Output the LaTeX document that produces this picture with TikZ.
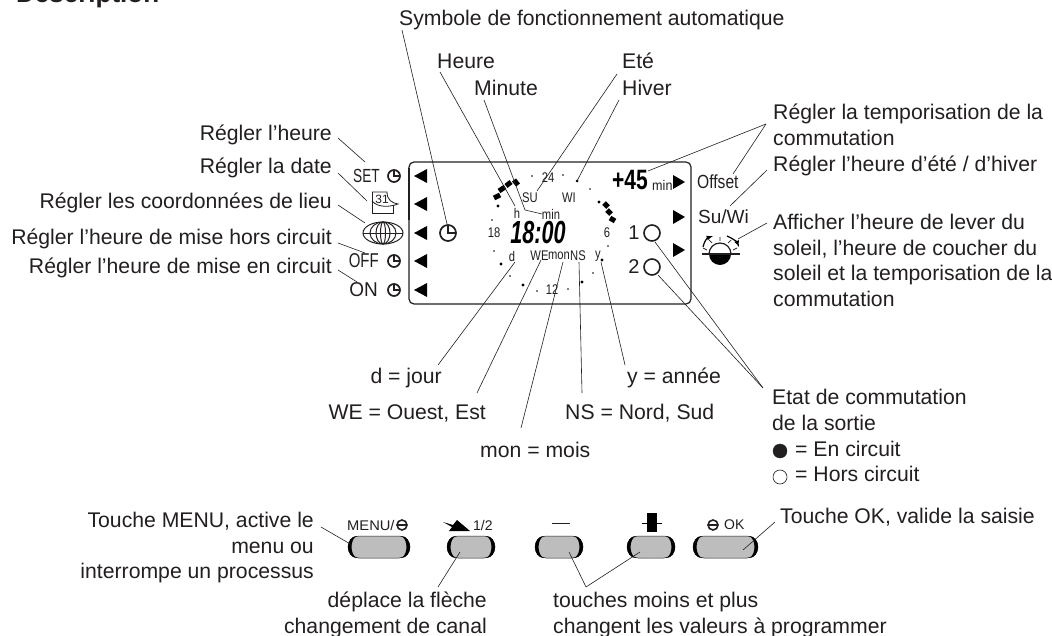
\documentclass[tikz,border=0pt]{standalone}
\usepackage{fontspec}
\usepackage{graphicx}
\setmainfont{Liberation Sans}
\definecolor{ink}{HTML}{231F20}
\definecolor{keygrey}{HTML}{BDBDBD}
\newcommand{\narrowtxt}[2][.8]{\scalebox{#1}[1]{#2}}
\tikzset{
	lbl/.style={font=\fontsize{21.2}{25.7}\selectfont,text=ink,inner sep=0pt},
	lcd/.style={font=\fontsize{14}{14}\selectfont,text=ink,inner sep=0pt},
	keylbl/.style={font=\fontsize{19}{19}\selectfont,text=ink,inner sep=0pt},
	keycap/.style={font=\fontsize{14}{14}\selectfont,text=ink,inner sep=0pt},
	pics/clockmark/.style={code={
		\draw [ink,line width=1.7pt] (0,0) circle (#1);
		\draw [ink,line width=1.4pt] (0,-#1) -- (0,0) -- (#1,0);
	}},
	pics/clockmark/.default=6,
	pics/barmark/.style={code={
		\draw [ink,line width=1.6pt] (0,0) circle (5);
		\draw [ink,line width=1.6pt] (-5,0) -- (5,0);
	}},
	pics/pushkey/.style={code={
		\draw [ink,line width=.5pt,fill=keygrey,rounded corners=11pt] (-#1,-11) rectangle (#1,11);
		\fill [black] (-#1+9,-11) .. controls (-#1-3,-11) and (-#1-3,11) .. (-#1+9,11) .. controls (-#1+1.7,8) and (-#1+1.7,-8) .. cycle;
		\fill [black] (#1-9,-11) .. controls (#1+3,-11) and (#1+3,11) .. (#1-9,11) .. controls (#1-1.7,8) and (#1-1.7,-8) .. cycle;
	}},
}
\begin{document}
\begin{tikzpicture}[x=1pt,y=-1pt]
	\useasboundingbox (0,0) rectangle (1052,636);
	\fill [white] (0,0) rectangle (1052,636);

	% title
	\node [lbl,anchor=base west,font=\fontsize{26}{26}\selectfont\bfseries] (title) at (16,2.5) {Description};

	% display
	\draw [ink,line width=1.2pt,rounded corners=5pt] (409,162) rectangle (691,304);
	\draw [ink,line width=2pt] (409,168) -- (409,220);
	\foreach \y in {176,204,233,261,290}
		\fill [black] (414,\y) -- (427,\y-7) -- (427,\y+7) -- cycle;
	\foreach \y in {182,217,250}
		\fill [black] (685,\y) -- (673,\y-7) -- (673,\y+7) -- cycle;
	\foreach \x/\y/\r in {532/176/.9,563/175/.9,577/181/1.5,590/189/.9,599/202/1.7,492/220/.9,498/206/1.7,494/251/.9,501/264/1.7,510/276/.9,523/285/1.7,537/291/.9,568/289/.9,582/282/1.7,593/273/.9,602/260/1.7,608/246/.9}
		\fill [black] (\x,\y) circle (\r);
	\foreach \a/\b/\c/\d in {494/198/500/195,499/191/505/187,506/186/511/182,514/180/518/185,604/203/608/207,607/210/611/214,610/218/615/221}
		\draw [black,line width=5pt] (\a,\b) -- (\c,\d);

	\node [lcd] (t24) at (548,178) {\narrowtxt{24}};
	\node [lcd] (t18) at (494,233) {\narrowtxt{18}};
	\node [lcd] (t6) at (607,233) {\narrowtxt{6}};
	\node [lcd] (t12) at (552,290) {\narrowtxt{12}};
	\node [lcd] (su) at (530,198) {\narrowtxt{SU}};
	\node [lcd] (wi) at (569,198) {\narrowtxt{WI}};
	\node [lcd] (hh) at (517,213) {\narrowtxt{h}};
	\node [lcd] (mm) at (551,214) {\narrowtxt{min}};
	\node [lcd] (dd) at (512,256) {\narrowtxt{d}};
	\node [lcd] (we) at (539.5,256) {\narrowtxt{WE}};
	\node [lcd] (mo) at (559,256) {\narrowtxt{mon}};
	\node [lcd] (ns) at (578,256) {\narrowtxt{NS}};
	\node [lcd] (yy) at (598,256) {\narrowtxt{y}};
	\node [inner sep=0pt,text=black,font=\fontsize{24}{24}\selectfont\bfseries\itshape] (clock) at (538,233) {\scalebox{.9}[1.33]{18:00}};
	\node [inner sep=0pt,text=black,font=\fontsize{28}{28}\selectfont\bfseries] (offs) at (630,180) {\narrowtxt[.75]{+45}};
	\node [lcd,anchor=west] (offmin) at (652,185) {\narrowtxt[.9]{min}};

	\pic at (448,233) {clockmark=8};
	\node [lbl,font=\fontsize{20}{20}\selectfont] (one) at (634,233) {1};
	\node [lbl,font=\fontsize{20}{20}\selectfont] (two) at (634,267) {2};
	\node [circle,draw=ink,line width=1.6pt,minimum size=16pt,inner sep=0pt] (outa) at (652,233) {};
	\node [circle,draw=ink,line width=1.6pt,minimum size=16pt,inner sep=0pt] (outb) at (652,267) {};

	% left hand marks
	\node [keylbl,anchor=east] (set) at (380,176) {\narrowtxt[.72]{SET}};
	\node [keylbl,anchor=east,font=\fontsize{20}{20}\selectfont] (off) at (379,261) {\narrowtxt[.75]{OFF}};
	\node [keylbl,anchor=east,font=\fontsize{20}{20}\selectfont] (on) at (378,290) {\narrowtxt[.95]{ON}};
	\pic at (394,176) {clockmark};
	\pic at (394,261) {clockmark};
	\pic at (394,290) {clockmark};
	\draw [ink,line width=.8pt] (372,192) -- (372,213) -- (393,213) -- (393,205);
	\draw [ink,line width=.8pt] (372,192) -- (387,192) .. controls (387,200) and (392,203) .. (398,204) .. controls (390,207) and (378,208) .. (372,201);
	\node [lcd,font=\fontsize{12}{12}\selectfont] (cal) at (382,199) {31};
	\draw [ink,line width=1pt] (383,233) ellipse (20 and 11);
	\draw [ink,line width=1pt] (383,233) ellipse (13 and 11);
	\draw [ink,line width=1pt] (383,233) ellipse (7 and 11);
	\draw [ink,line width=1pt] (383,233) ellipse (2.5 and 11);
	\draw [ink,line width=.8pt] (363,233) -- (403,233);

	% right hand marks
	\node [keylbl,anchor=west] (offset) at (697,182) {\narrowtxt[.82]{Offset}};
	\node [keylbl,anchor=west] (suwi) at (698,217) {Su/Wi};
	\fill [black] (709,254) arc [start angle=180,end angle=360,y radius=-11,x radius=11] -- cycle;
	\draw [ink,line width=1.2pt] (709,254) arc [start angle=180,end angle=360,radius=11];
	\draw [ink,line width=1.2pt] (702,254) -- (740,254);
	\draw [ink,line width=.7pt] (720,241) -- (720,237) (712,243) -- (709,240) (728,243) -- (731,240) (707,250) -- (703,248) (733,250) -- (737,248);
	\draw [black,line width=1.2pt,-latex] (703,247) .. controls (704,242) and (707,238) .. (713,236);
	\draw [black,line width=1.2pt,-latex] (727,236) .. controls (732,238) and (737,242) .. (739,247);

	% keys
	\pic at (379,547) {pushkey=31};
	\pic at (471,547) {pushkey=24};
	\pic at (559,547) {pushkey=24};
	\pic at (651,547) {pushkey=24};
	\pic at (725.5,547) {pushkey=32.5};
	\node [keycap,anchor=west] (menukey) at (347,525) {\narrowtxt[1.05]{MENU/}};
	\pic at (402,525) {barmark};
	\fill [black] (443,522) -- (453,525) -- (457,520) -- (470,531) -- (449,531) -- (452,527) -- cycle;
	\node [keycap,anchor=west] (chankey) at (473,525) {1/2};
	\draw [ink,line width=.9pt] (552,523) -- (570,523);
	\fill [black] (647,513) rectangle (657,532);
	\fill [black] (642,522.5) rectangle (662,523.5);
	\pic at (713,525) {barmark};
	\node [keycap,anchor=west] (okkey) at (724,525) {OK};

	% labels
	\node [lbl,anchor=west] (autolbl) at (399,20) {Symbole de fonctionnement automatique};
	\node [lbl,anchor=west] (heure) at (437,61) {Heure};
	\node [lbl,anchor=west] (minute) at (474,88) {Minute};
	\node [lbl,anchor=west] (ete) at (622,61) {Eté};
	\node [lbl,anchor=west] (hiver) at (622,88) {Hiver};
	\node [lbl,anchor=east] (sethour) at (332,135) {Régler l'heure};
	\node [lbl,anchor=east] (setdate) at (332,168) {Régler la date};
	\node [lbl,anchor=east] (setplace) at (332,203) {Régler les coordonnées de lieu};
	\node [lbl,anchor=east] (setoff) at (332,239) {Régler l'heure de mise hors circuit};
	\node [lbl,anchor=east] (seton) at (332,268) {Régler l'heure de mise en circuit};
	\node [lbl,anchor=north west,align=left] (delay) at (773,104) {Régler la temporisation de la\\commutation};
	\node [lbl,anchor=west] (summer) at (773,166) {Régler l'heure d'été / d'hiver};
	\node [lbl,anchor=north west,align=left] (sunlbl) at (773,214) {Afficher l'heure de lever du\\soleil, l'heure de coucher du\\soleil et la temporisation de la\\commutation};
	\node [lbl,anchor=north west,align=left] (state) at (772,389) {Etat de commutation\\de la sortie};
	\node [lbl,anchor=west] (stateon) at (795,449) {= En circuit};
	\node [lbl,anchor=west] (stateoff) at (795,474) {= Hors circuit};
	\node [circle,fill=ink,draw=ink,minimum size=14pt,inner sep=0pt] (lampon) at (780,451) {};
	\node [circle,draw=ink,line width=.6pt,minimum size=14pt,inner sep=0pt] (lampoff) at (780,477) {};
	\node [lbl,anchor=east] (jour) at (442,378) {d = jour};
	\node [lbl,anchor=east] (ouest) at (486,413) {WE = Ouest, Est};
	\node [lbl,anchor=west] (mois) at (480,450) {mon = mois};
	\node [lbl,anchor=west] (nord) at (565,413) {NS = Nord, Sud};
	\node [lbl,anchor=west] (annee) at (627,378) {y = année};
	\node [lbl,anchor=north east,align=right] (menulbl) at (314,512) {Touche MENU, active le\\menu ou\\interrompe un processus};
	\node [lbl,anchor=west] (oklbl) at (780,517) {Touche OK, valide la saisie};
	\node [lbl,anchor=north east,align=right] (chanlbl) at (487,592) {déplace la flèche\\changement de canal};
	\node [lbl,anchor=north west,align=left] (pluslbl) at (553,592) {touches moins et plus\\changent les valeurs à programmer};

	% leader ends
	\coordinate (a1) at (402,30);	\coordinate (a2) at (447,224);
	\coordinate (b1) at (440,72);	\coordinate (b2) at (515,206);
	\coordinate (c1) at (484,100);	\coordinate (c2) at (525,210);	\coordinate (c3) at (542,214);
	\coordinate (d1) at (617,74);	\coordinate (d2) at (537,191);
	\coordinate (e1) at (619,100);	\coordinate (e2) at (577,181);
	\coordinate (f1) at (766,124);	\coordinate (f2) at (648,171);	\coordinate (f3) at (733,174);
	\coordinate (g1) at (767,170);	\coordinate (g2) at (730,206);
	\coordinate (h1) at (767,223);	\coordinate (h2) at (738,239);
	\coordinate (i1) at (338,138);	\coordinate (i2) at (365,162);
	\coordinate (j1) at (338,173);	\coordinate (j2) at (367,201);
	\coordinate (k1) at (338,205);	\coordinate (k2) at (365,223);
	\coordinate (l1) at (338,243);	\coordinate (l2) at (365,253);
	\coordinate (m1) at (338,270);	\coordinate (m2) at (357,282);
	\coordinate (n1) at (438,365);	\coordinate (n2) at (515,262);
	\coordinate (o1) at (477,393);	\coordinate (o2) at (541,260);
	\coordinate (p1) at (521,428);	\coordinate (p2) at (563,262);
	\coordinate (q1) at (582,393);	\coordinate (q2) at (579,262);
	\coordinate (r1) at (625,365);	\coordinate (r2) at (601,262);
	\coordinate (s1) at (763,388);	\coordinate (s2) at (655,242);	\coordinate (s3) at (658,275);
	\coordinate (t1) at (321,527);	\coordinate (t2) at (352,545);
	\coordinate (u1) at (438,587);	\coordinate (u2) at (460,552);
	\coordinate (v1) at (586,587);	\coordinate (v2) at (569,552);	\coordinate (v3) at (640,552);
	\coordinate (w1) at (775,522);	\coordinate (w2) at (743,550);

	\begin{scope}[every edge/.style={draw=ink,line width=.6pt}]
		\path (a1) edge (a2);
		\path (b1) edge (b2);
		\path (c1) edge (c2);
		\path (c2) edge (c3);
		\path (d1) edge (d2);
		\path (e1) edge (e2);
		\path (f1) edge (f2);
		\path (f1) edge (f3);
		\path (g1) edge (g2);
		\path (h1) edge (h2);
		\path (i1) edge (i2);
		\path (j1) edge (j2);
		\path (k1) edge (k2);
		\path (l1) edge (l2);
		\path (m1) edge (m2);
		\path (n1) edge (n2);
		\path (o1) edge (o2);
		\path (p1) edge (p2);
		\path (q1) edge (q2);
		\path (r1) edge (r2);
		\path (s1) edge (s2);
		\path (s1) edge (s3);
		\path (t1) edge (t2);
		\path (u1) edge (u2);
		\path (v1) edge (v2);
		\path (v1) edge (v3);
		\path (w1) edge (w2);
	\end{scope}
\end{tikzpicture}
\end{document}
